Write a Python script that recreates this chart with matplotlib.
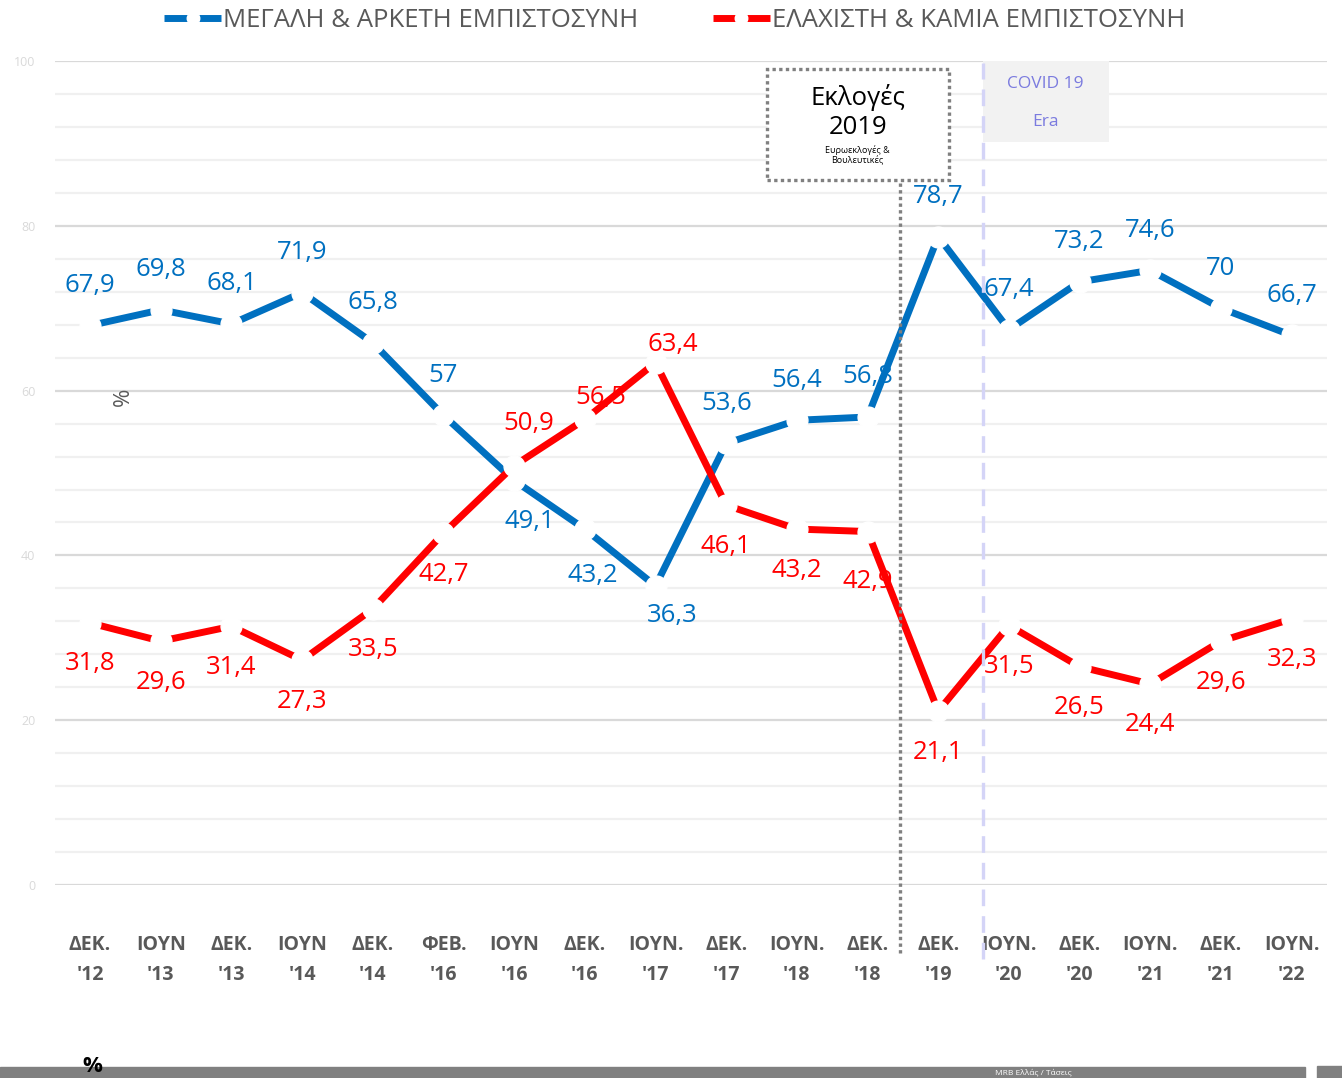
import matplotlib.pyplot as plt
import numpy as np
from matplotlib.lines import Line2D
from matplotlib.patches import Rectangle

plt.rcParams['font.family'] = ['Open Sans', 'DejaVu Sans']

# categories (survey waves)
periods = ["ΔΕΚ.\n'12", "ΙΟΥΝ\n'13", "ΔΕΚ.\n'13", "ΙΟΥΝ\n'14", "ΔΕΚ.\n'14",
           "ΦΕΒ.\n'16", "ΙΟΥΝ\n'16", "ΔΕΚ.\n'16", "ΙΟΥΝ.\n'17", "ΔΕΚ.\n'17",
           "ΙΟΥΝ.\n'18", "ΔΕΚ.\n'18", "ΔΕΚ.\n'19", "ΙΟΥΝ.\n'20", "ΔΕΚ.\n'20",
           "ΙΟΥΝ.\n'21", "ΔΕΚ.\n'21", "ΙΟΥΝ.\n'22"]

highTrust = [67.9, 69.8, 68.1, 71.9, 65.8, 57, 49.1, 43.2, 36.3, 53.6,
             56.4, 56.8, 78.7, 67.4, 73.2, 74.6, 70, 66.7]
lowTrust = [31.8, 29.6, 31.4, 27.3, 33.5, 42.7, 50.9, 56.5, 63.4, 46.1,
            43.2, 42.9, 21.1, 31.5, 26.5, 24.4, 29.6, 32.3]

highName = "ΜΕΓΑΛΗ & ΑΡΚΕΤΗ ΕΜΠΙΣΤΟΣΥΝΗ"
lowName = "ΕΛΑΧΙΣΤΗ & ΚΑΜΙΑ ΕΜΠΙΣΤΟΣΥΝΗ"

# label offsets in pixels (dx, dy)
highOffsets = [(0, 40)] * 6 + [(16, -41), (8, -46), (17, -30)] + [(0, 40)] * 9
lowOffsets = [(0, -41)] * 6 + [(15, 42), (16, 22), (17, 18)] + [(0, -41)] * 2 + \
             [(0, -50)] + [(0, -41)] * 6

BLUE = '#0070C0'
RED = '#FF0000'
GRAY_TEXT = '#595959'

fig = plt.figure(figsize=(13.42, 10.78), dpi=100)
ax = fig.add_axes([0.0408, 0.179, 0.9480, 0.7644])

x = np.arange(len(periods))
lineStyle = dict(lw=5, marker='o', ms=15, mfc='white', mec='white',
                 solid_capstyle='butt', zorder=4)
ax.plot(x, highTrust, color=BLUE, **lineStyle)
ax.plot(x, lowTrust, color=RED, **lineStyle)

def fmt(v):
    return f"{v:g}".replace('.', ',')

for xi, v, off in zip(x, highTrust, highOffsets):
    ax.annotate(fmt(v), (xi, v), xytext=off, textcoords='offset pixels',
                ha='center', va='center', color=BLUE, fontsize=18.5, zorder=3)
for xi, v, off in zip(x, lowTrust, lowOffsets):
    ax.annotate(fmt(v), (xi, v), xytext=off, textcoords='offset pixels',
                ha='center', va='center', color=RED, fontsize=18.5, zorder=3)

# axes and grid
ax.set_xlim(-0.5, len(periods) - 0.5)
ax.set_ylim(0, 100)
ax.set_yticks(np.arange(0, 101, 20))
ax.set_yticks(np.arange(0, 101, 4), minor=True)
ax.grid(True, which='major', axis='y', color='#D9D9D9', lw=1.6, zorder=0)
ax.grid(True, which='minor', axis='y', color='#F0F0F0', lw=1.6, zorder=0)
ax.set_axisbelow(True)
for s in ax.spines.values():
    s.set_visible(False)
ax.tick_params(axis='y', which='both', length=0, labelsize=9,
               labelcolor='#D9D9D9', pad=14)
ax.set_xticks(x)
ax.set_xticklabels(periods, fontsize=14, fontweight='bold', color=GRAY_TEXT,
                   linespacing=1.65)
ax.tick_params(axis='x', length=0, pad=36)

ax.text(0.47, 59.2, '%', rotation=90, ha='center', va='center',
        fontsize=16, color=GRAY_TEXT)

# elections 2019 marker
electionX = 11.46
ax.plot([electionX, electionX], [-8.2, 85.6], color='#808080', lw=2.4,
        ls=(0, (1, 1)), clip_on=False, zorder=6)
ax.add_patch(Rectangle((9.576, 85.6), 2.574, 13.4, facecolor='white',
                       edgecolor='#808080', lw=2.4, ls=(0, (1, 1)),
                       clip_on=False, zorder=6))
ax.text(10.86, 95.6, 'Εκλογές', ha='center', va='center', fontsize=18.5,
        color='black', zorder=7)
ax.text(10.86, 91.9, '2019', ha='center', va='center', fontsize=18.5,
        color='black', zorder=7)
ax.text(10.86, 88.6, 'Ευρωεκλογές &\nΒουλευτικές', ha='center', va='center',
        fontsize=6.5, color='black', linespacing=1.1, zorder=7)

# covid era marker
covidX = 12.63
ax.add_patch(Rectangle((covidX, 90.2), 1.78, 9.8, facecolor='#F2F2F2',
                       edgecolor='none', zorder=1))
ax.plot([covidX, covidX], [-9.0, 99.8], color='#D4D4F7', lw=2.4,
        ls=(0, (5, 3)), clip_on=False, zorder=6)
ax.text(13.52, 97.2, 'COVID 19', ha='center', va='center', fontsize=12.5,
        color='#7B7BDF', zorder=2)
ax.text(13.52, 92.6, 'Era', ha='center', va='center', fontsize=12.5,
        color='#7B7BDF', zorder=2)

# legend
handles = [Line2D([], [], color=BLUE, lw=5, marker='o', ms=9, mfc='white',
                  mec='white', solid_capstyle='butt'),
           Line2D([], [], color=RED, lw=5, marker='o', ms=9, mfc='white',
                  mec='white', solid_capstyle='butt')]
leg = fig.legend(handles, [highName, lowName], loc='center',
                 bbox_to_anchor=(0.503, 0.981), ncol=2, frameon=False,
                 fontsize=18.5, handlelength=2.2, handletextpad=0.1,
                 columnspacing=2.9, borderpad=0)
for t in leg.get_texts():
    t.set_color(GRAY_TEXT)

# footer bar
fig.patches.append(Rectangle((0, 0), 1305 / 1342, 11 / 1078, color='#808080',
                             transform=fig.transFigure, figure=fig, zorder=0))
fig.patches.append(Rectangle((1317 / 1342, 0), 25 / 1342, 12 / 1078,
                             color='#808080', transform=fig.transFigure,
                             figure=fig, zorder=0))
fig.text(995 / 1342, 5.5 / 1078, 'MRB Ελλάς / Τάσεις', color='white',
         fontsize=6, va='center', ha='left')
fig.text(92 / 1342, 12 / 1078, '%', color='black', fontsize=16,
         fontweight='bold', ha='center', va='center')

fig.savefig('out.png', dpi=100)
